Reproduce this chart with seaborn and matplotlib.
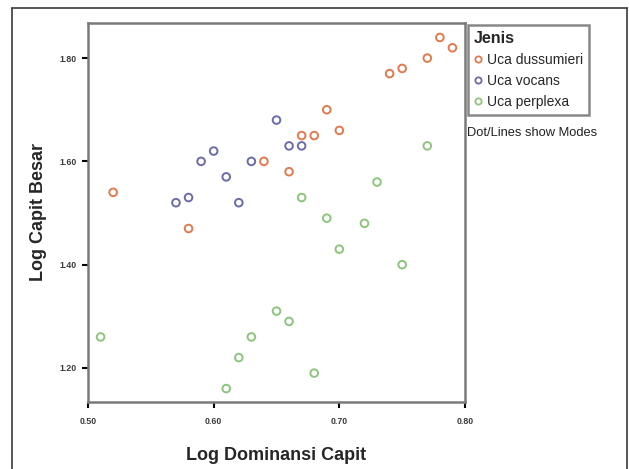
import numpy as np
import pandas as pd
import seaborn as sns
import matplotlib.pyplot as plt
from matplotlib.lines import Line2D
from matplotlib.ticker import FormatStrFormatter

# data
species = ['Uca dussumieri', 'Uca vocans', 'Uca perplexa']
colors = ['#e2794f', '#6b6bab', '#8cc67c']

dus_x = [0.52, 0.58, 0.64, 0.66, 0.67, 0.68, 0.69, 0.70, 0.74, 0.75, 0.77, 0.78, 0.79]
dus_y = [1.54, 1.47, 1.60, 1.58, 1.65, 1.65, 1.70, 1.66, 1.77, 1.78, 1.80, 1.84, 1.82]

voc_x = [0.57, 0.58, 0.59, 0.60, 0.61, 0.62, 0.63, 0.65, 0.66, 0.67]
voc_y = [1.52, 1.53, 1.60, 1.62, 1.57, 1.52, 1.60, 1.68, 1.63, 1.63]

per_x = [0.51, 0.61, 0.62, 0.63, 0.65, 0.66, 0.67, 0.68, 0.69, 0.70, 0.72, 0.73, 0.75, 0.77]
per_y = [1.26, 1.16, 1.22, 1.26, 1.31, 1.29, 1.53, 1.19, 1.49, 1.43, 1.48, 1.56, 1.40, 1.63]

xticks = [0.50, 0.60, 0.70, 0.80]
yticks = [1.20, 1.40, 1.60, 1.80]

df = pd.DataFrame({
    'x': dus_x + voc_x + per_x,
    'y': dus_y + voc_y + per_y,
    'Jenis': [species[0]] * len(dus_x) + [species[1]] * len(voc_x) + [species[2]] * len(per_x),
})

sns.set_style('white')
plt.rcParams['font.family'] = ['Liberation Sans', 'DejaVu Sans']

fig = plt.figure(figsize=(6.29, 4.69), dpi=100)
ax = fig.add_axes([88 / 629, 1 - 402 / 469, 377 / 629, 379 / 469])

sns.scatterplot(data=df, x='x', y='y', hue='Jenis', hue_order=species,
                palette=colors, s=30, linewidth=1.4, legend=False, ax=ax)
# open circles: move hue colour to the edge
pc = ax.collections[0]
fc = pc.get_facecolors()
pc.set_edgecolors(fc)
pc.set_facecolors('none')

ax.set_xlim(0.5, 0.8)
ax.set_ylim(1.134, 1.868)
ax.set_xticks(xticks)
ax.set_yticks(yticks)
ax.xaxis.set_major_formatter(FormatStrFormatter('%.2f'))
ax.yaxis.set_major_formatter(FormatStrFormatter('%.2f'))
ax.tick_params(axis='both', direction='out', length=4, width=1.5, color='black',
               labelsize=6.3, labelcolor='#3a3a3a', pad=4,
               bottom=True, left=True)
ax.tick_params(axis='x', pad=7)
for lab in ax.get_xticklabels() + ax.get_yticklabels():
    lab.set_fontweight('bold')
for sp in ax.spines.values():
    sp.set_color('#7a7a7a')
    sp.set_linewidth(1.8)

ax.set_xlabel('Log Dominansi Capit', fontsize=13, fontweight='bold', labelpad=15)
ax.set_ylabel('Log Capit Besar', fontsize=13, fontweight='bold', labelpad=9)

handles = [Line2D([], [], marker='o', linestyle='', markerfacecolor='none',
                  markeredgecolor=c, markeredgewidth=1.3, markersize=4.5) for c in colors]
leg = fig.legend(handles, species, title='Jenis', loc='upper left',
                 bbox_to_anchor=(468 / 629, 1 - 25 / 469), bbox_transform=fig.transFigure,
                 frameon=True, fancybox=False, fontsize=10, title_fontsize=11.5,
                 alignment='left', handlelength=0.6, handletextpad=0.3,
                 borderpad=0.45, labelspacing=0.5, borderaxespad=0)
leg.get_title().set_fontweight('bold')
leg.get_frame().set_edgecolor('#6a6a6a')
leg.get_frame().set_linewidth(1.8)

fig.text(467 / 629, 1 - 133 / 469, 'Dot/Lines show Modes', fontsize=9.3,
         ha='left', va='center', color='#222222')

# outer frame of the picture
frame_kw = dict(color='#3a3a3a', linewidth=1.2, transform=fig.transFigure)
fig.add_artist(Line2D([12 / 629, 12 / 629], [0, 1 - 8 / 469], **frame_kw))
fig.add_artist(Line2D([12 / 629, 627 / 629], [1 - 8 / 469, 1 - 8 / 469], **frame_kw))
fig.add_artist(Line2D([627 / 629, 627 / 629], [0, 1 - 8 / 469], **frame_kw))

fig.savefig('out.png', dpi=100)
